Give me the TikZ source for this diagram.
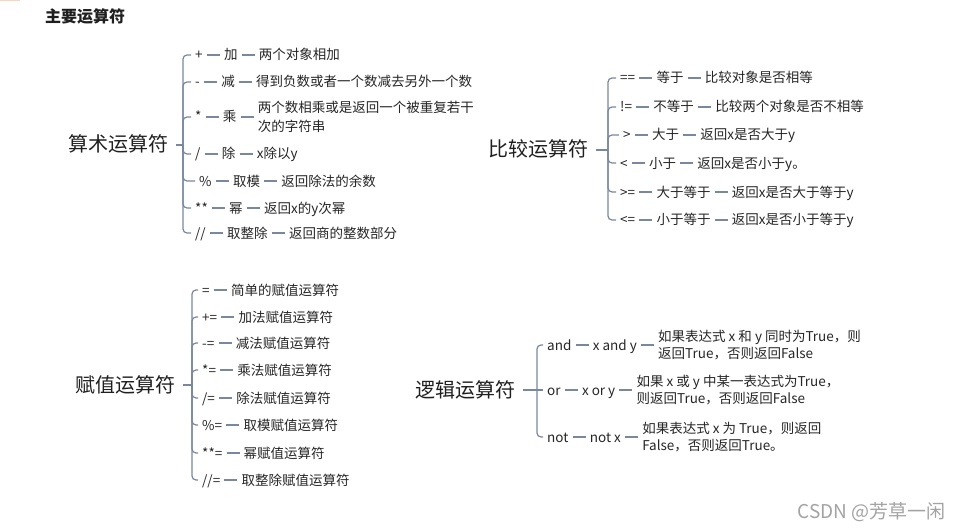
\documentclass[tikz,border=0pt]{standalone}
\usepackage{fontspec}
\setmainfont{Noto Sans CJK SC}
\usetikzlibrary{positioning}
\definecolor{lc}{HTML}{7A889E}
\definecolor{tc}{HTML}{262626}
\definecolor{rc}{HTML}{1F1F1F}
\definecolor{wm}{HTML}{A3A3A3}
\definecolor{orng}{HTML}{FAD3C4}
\newcommand{\dsh}[2]{\draw[conn] (#1.east) -- (#1.east -| #2.west);}
\begin{document}
\begin{tikzpicture}[x=1pt,y=-1pt,node distance=13pt,
 conn/.style={draw=lc,line width=1.2pt},
 br/.style={conn,rounded corners=4pt},
 item/.style={font=\fontsize{13.5}{17}\selectfont,text=tc,inner xsep=4pt,inner ysep=0pt,text height=10pt,text depth=0pt},
 desc/.style={font=\fontsize{13.5}{17}\selectfont,text=tc,inner xsep=4pt,inner ysep=0pt,align=left},
 root/.style={font=\fontsize{20}{24}\selectfont,text=rc,inner xsep=8pt,inner ysep=0pt,text height=14pt,text depth=0pt},
]
\fill[white] (0,0) rectangle (959,532);
\useasboundingbox (0,0) rectangle (959,532);
\fill[orng] (0,0) rectangle (20,1.5);
\node[font=\fontsize{16}{18}\selectfont\bfseries,text=rc,anchor=west,inner sep=0pt] (title) at (45,16) {主要运算符};

% ---------- arithmetic ----------
\node[root,anchor=west] (ar) at (60,145) {算术运算符};
\coordinate (arj) at (183,145);
\draw[conn] (ar.east) -- (arj);
\node[item,anchor=west] (a1) at (191,55) {+};
\node[item,right=of a1] (a1b) {加};
\node[item,right=of a1b] (a1c) {两个对象相加};
\dsh{a1}{a1b}\dsh{a1b}{a1c}
\node[item,anchor=west] (a2) at (191,82) {-};
\node[item,right=of a2] (a2b) {减};
\node[item,right=of a2b] (a2c) {得到负数或者一个数减去另外一个数};
\dsh{a2}{a2b}\dsh{a2b}{a2c}
\node[item,anchor=west] (a3) at (191,117) {*};
\node[item,right=of a3] (a3b) {乘};
\node[desc,right=of a3b] (a3c) {两个数相乘或是返回一个被重复若干\\[2pt]次的字符串};
\dsh{a3}{a3b}\dsh{a3b}{a3c}
\node[item,anchor=west] (a4) at (191,154) {/};
\node[item,right=of a4] (a4b) {除};
\node[item,right=of a4b] (a4c) {x除以y};
\dsh{a4}{a4b}\dsh{a4b}{a4c}
\node[item,anchor=west] (a5) at (195,181) {\%};
\node[item,right=of a5] (a5b) {取模};
\node[item,right=of a5b] (a5c) {返回除法的余数};
\dsh{a5}{a5b}\dsh{a5b}{a5c}
\node[item,anchor=west] (a6) at (191,208) {**};
\node[item,right=of a6] (a6b) {幂};
\node[item,right=of a6b] (a6c) {返回x的y次幂};
\dsh{a6}{a6b}\dsh{a6b}{a6c}
\node[item,anchor=west] (a7) at (191,233) {//};
\node[item,right=of a7] (a7b) {取整除};
\node[item,right=of a7b] (a7c) {返回商的整数部分};
\dsh{a7}{a7b}\dsh{a7b}{a7c}
\foreach \n in {a1,a2,a3,a4,a5,a6,a7} \draw[br] (arj) |- (\n.west);

% ---------- comparison ----------
\node[root,anchor=west] (cr) at (480,150) {比较运算符};
\coordinate (crj) at (608,150);
\draw[conn] (cr.east) -- (crj);
\node[item,anchor=west] (c1) at (616,78) {==};
\node[item,right=of c1] (c1b) {等于};
\node[item,right=of c1b] (c1c) {比较对象是否相等};
\dsh{c1}{c1b}\dsh{c1b}{c1c}
\node[item,anchor=west] (c2) at (616,107) {!=};
\node[item,right=of c2] (c2b) {不等于};
\node[item,right=of c2b] (c2c) {比较两个对象是否不相等};
\dsh{c2}{c2b}\dsh{c2b}{c2c}
\node[item,anchor=west] (c3) at (619,135) {>};
\node[item,right=of c3] (c3b) {大于};
\node[item,right=of c3b] (c3c) {返回x是否大于y};
\dsh{c3}{c3b}\dsh{c3b}{c3c}
\node[item,anchor=west] (c4) at (616,163) {<};
\node[item,right=of c4] (c4b) {小于};
\node[item,right=of c4b] (c4c) {返回x是否小于y。};
\dsh{c4}{c4b}\dsh{c4b}{c4c}
\node[item,anchor=west] (c5) at (616,192) {>=};
\node[item,right=of c5] (c5b) {大于等于};
\node[item,right=of c5b] (c5c) {返回x是否大于等于y};
\dsh{c5}{c5b}\dsh{c5b}{c5c}
\node[item,anchor=west] (c6) at (616,220) {<=};
\node[item,right=of c6] (c6b) {小于等于};
\node[item,right=of c6b] (c6c) {返回x是否小于等于y};
\dsh{c6}{c6b}\dsh{c6b}{c6c}
\foreach \n in {c1,c2,c3,c4,c5,c6} \draw[br] (crj) |- (\n.west);

% ---------- assignment ----------
\node[root,anchor=west] (sr) at (67,385) {赋值运算符};
\coordinate (srj) at (192,385);
\draw[conn] (sr.east) -- (srj);
\node[item,anchor=west] (s1) at (198,290) {=};
\node[item,right=of s1] (s1b) {简单的赋值运算符};
\dsh{s1}{s1b}
\node[item,anchor=west] (s2) at (198,317) {+=};
\node[item,right=of s2] (s2b) {加法赋值运算符};
\dsh{s2}{s2b}
\node[item,anchor=west] (s3) at (198,343) {-=};
\node[item,right=of s3] (s3b) {减法赋值运算符};
\dsh{s3}{s3b}
\node[item,anchor=west] (s4) at (198,370) {*=};
\node[item,right=of s4] (s4b) {乘法赋值运算符};
\dsh{s4}{s4b}
\node[item,anchor=west] (s5) at (198,398) {/=};
\node[item,right=of s5] (s5b) {除法赋值运算符};
\dsh{s5}{s5b}
\node[item,anchor=west] (s6) at (198,425) {\%=};
\node[item,right=of s6] (s6b) {取模赋值运算符};
\dsh{s6}{s6b}
\node[item,anchor=west] (s7) at (198,453) {**=};
\node[item,right=of s7] (s7b) {幂赋值运算符};
\dsh{s7}{s7b}
\node[item,anchor=west] (s8) at (198,480) {//=};
\node[item,right=of s8] (s8b) {取整除赋值运算符};
\dsh{s8}{s8b}
\foreach \n in {s1,s2,s3,s4,s5,s6,s7,s8} \draw[br] (srj) |- (\n.west);

% ---------- logic ----------
\node[root,anchor=west] (lr) at (407,390) {逻辑运算符};
\coordinate (lrj) at (537,390);
\draw[conn] (lr.east) -- (lrj);
\node[item,anchor=west] (l1) at (543,345) {and};
\node[item,right=of l1] (l1b) {x and y};
\node[desc,right=of l1b] (l1c) {如果表达式 x 和 y 同时为True，则\\返回True，否则返回False};
\dsh{l1}{l1b}\dsh{l1b}{l1c}
\node[item,anchor=west] (l2) at (543,390) {or};
\node[item,right=of l2] (l2b) {x or y};
\node[desc,right=of l2b] (l2c) {如果 x 或 y 中某一表达式为True，\\则返回True，否则返回False};
\dsh{l2}{l2b}\dsh{l2b}{l2c}
\node[item,anchor=west] (l3) at (543,437) {not};
\node[item,right=of l3] (l3b) {not x};
\node[desc,right=of l3b] (l3c) {如果表达式 x 为 True，则返回\\False，否则返回True。};
\dsh{l3}{l3b}\dsh{l3b}{l3c}
\draw[br] (lrj) |- (l1.west);
\draw[conn] (lrj) -- (l2.west);
\draw[br] (lrj) |- (l3.west);

% ---------- watermark ----------
\node[font=\fontsize{19}{22}\selectfont,text=wm,anchor=east,inner sep=0pt] (wmk) at (946,512) {CSDN @芳草一闲};
\end{tikzpicture}
\end{document}
